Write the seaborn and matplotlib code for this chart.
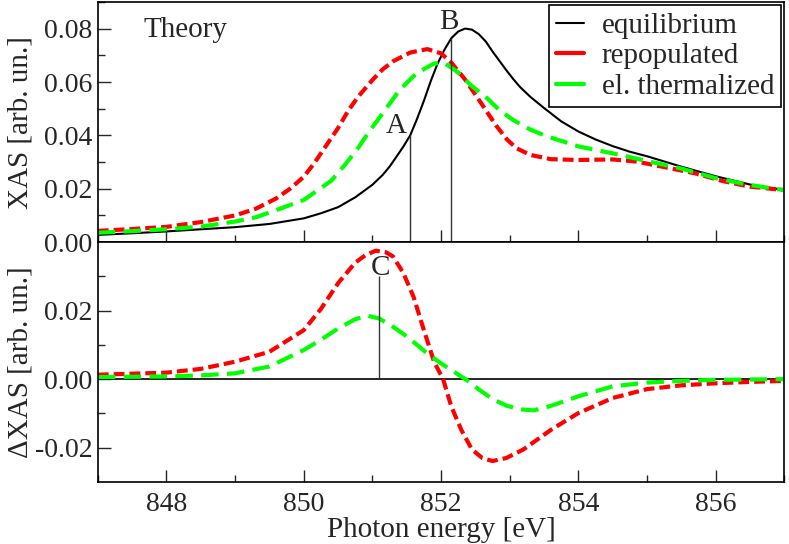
import numpy as np
import pandas as pd
import seaborn as sns
import matplotlib
matplotlib.use("Agg")
import matplotlib.pyplot as plt
from matplotlib.ticker import MultipleLocator, FuncFormatter

# --- XAS spectra (top panel) ---
energy_eq = [847, 847.5, 848, 848.5, 849, 849.5, 850, 850.25, 850.5, 850.75, 851,
             851.15, 851.25, 851.35, 851.45, 851.55, 851.65, 851.75, 851.85, 851.95,
             852.05, 852.15, 852.25, 852.35, 852.45, 852.55, 852.65, 852.75, 852.85,
             852.95, 853.05, 853.15, 853.3, 853.5, 853.75, 854, 854.25, 854.5, 854.75,
             855, 855.5, 856, 856.5, 857]
xas_eq = [0.0027, 0.0033, 0.0040, 0.0048, 0.0056, 0.0068, 0.0089, 0.0108, 0.0131,
          0.0168, 0.0215, 0.0252, 0.0283, 0.0320, 0.0358, 0.0400, 0.0462, 0.0530,
          0.0604, 0.0670, 0.0722, 0.0765, 0.0790, 0.0801, 0.0797, 0.0780, 0.0753,
          0.0715, 0.0680, 0.0645, 0.0612, 0.0582, 0.0545, 0.0503, 0.0453, 0.0415,
          0.0385, 0.0360, 0.0339, 0.0322, 0.0283, 0.0247, 0.0216, 0.0195]

energy_rep = [847, 847.5, 848, 848.5, 849, 849.3, 849.6, 849.8, 850, 850.15, 850.3,
              850.5, 850.65, 850.8, 851, 851.15, 851.3, 851.55, 851.8, 852, 852.15,
              852.35, 852.6, 852.8, 852.96, 853.1, 853.3, 853.6, 854, 854.5, 854.85,
              855.2, 855.7, 856.1, 856.5, 857]
xas_rep = [0.0042, 0.0049, 0.0057, 0.0075, 0.0100, 0.0125, 0.0164, 0.0200, 0.0245,
           0.0295, 0.0352, 0.0428, 0.0494, 0.0548, 0.0608, 0.0648, 0.0678, 0.0711,
           0.0724, 0.0708, 0.0673, 0.0610, 0.0515, 0.0438, 0.0385, 0.0352, 0.0327,
           0.0311, 0.0308, 0.0310, 0.0302, 0.0284, 0.0258, 0.0229, 0.0208, 0.0195]

energy_th = [847, 847.5, 848, 848.5, 849, 849.3, 849.6, 850, 850.4, 850.6, 850.8,
             850.95, 851.15, 851.4, 851.65, 851.9, 852.05, 852.25, 852.45, 852.67,
             852.85, 853.05, 853.3, 853.55, 854, 854.5, 855, 855.5, 856, 856.5, 857]
xas_th = [0.0035, 0.0041, 0.0048, 0.0058, 0.0077, 0.0093, 0.0120, 0.0158, 0.0230,
          0.0290, 0.0356, 0.0414, 0.0483, 0.0572, 0.0635, 0.0670, 0.0672, 0.0636,
          0.0585, 0.0540, 0.0495, 0.0458, 0.0422, 0.0396, 0.0359, 0.0333, 0.0304,
          0.0276, 0.0240, 0.0214, 0.0195]

# --- difference spectra (bottom panel) ---
energy_drep = [847, 848, 848.5, 849, 849.5, 850, 850.25, 850.5, 850.75, 850.9, 851.05,
               851.2, 851.3, 851.45, 851.6, 851.75, 851.9, 852.03, 852.15, 852.3,
               852.45, 852.6, 852.75, 852.95, 853.2, 853.6, 854, 854.5, 855, 855.5,
               856, 856.5, 857]
dxas_rep = [0.0013, 0.0019, 0.0030, 0.0051, 0.0080, 0.0143, 0.0205, 0.0280, 0.0340,
            0.0362, 0.0375, 0.0370, 0.0358, 0.0310, 0.0240, 0.0143, 0.0050, 0.0000,
            -0.0080, -0.0150, -0.0205, -0.0230, -0.0239, -0.0230, -0.0205, -0.0148,
            -0.0099, -0.0055, -0.0029, -0.0018, -0.0012, -0.0008, -0.0005]

energy_dth = [847, 848, 848.5, 849, 849.5, 850, 850.25, 850.5, 850.75, 850.93, 851.1,
              851.3, 851.5, 851.8, 852, 852.2, 852.37, 852.55, 852.75, 852.95, 853.15,
              853.35, 853.6, 854, 854.5, 855, 855.5, 856, 857]
dxas_th = [0.0006, 0.0008, 0.0011, 0.0017, 0.0037, 0.0085, 0.0115, 0.0148, 0.0175,
           0.0185, 0.0177, 0.0153, 0.0125, 0.0075, 0.0046, 0.0020, -0.0002, -0.0030,
           -0.0058, -0.0077, -0.0088, -0.0091, -0.0078, -0.0050, -0.0021, -0.0010,
           -0.0005, -0.0002, 0.0]

# marked features
top_marks = ["A", "B"]
top_mark_energy = [851.55, 852.15]
top_mark_height = [0.040, 0.0765]
bottom_marks = ["C"]
bottom_mark_energy = [851.1]
bottom_mark_height = [0.030]

sns.set_style("ticks")
plt.rcParams["font.family"] = ["Liberation Serif", "DejaVu Serif"]
plt.rcParams["xtick.direction"] = "in"
plt.rcParams["ytick.direction"] = "in"

fig = plt.figure(figsize=(7.89, 5.44), dpi=100)
grid = fig.add_gridspec(2, 1, left=0.124, right=0.994, top=0.996, bottom=0.114, hspace=0)
top_ax = fig.add_subplot(grid[0])
bot_ax = fig.add_subplot(grid[1], sharex=top_ax)

red_dash = (0, (2.6, 1.2))
green_dash = (0, (4.2, 2.0))

sns.lineplot(x=energy_eq, y=xas_eq, ax=top_ax, color="black", lw=1.5, label="equilibrium")
sns.lineplot(x=energy_rep, y=xas_rep, ax=top_ax, color="#ff0000", lw=3, linestyle=red_dash,
             label="repopulated")
sns.lineplot(x=energy_th, y=xas_th, ax=top_ax, color="#00ff00", lw=3, linestyle=green_dash,
             label="el. thermalized")

sns.lineplot(x=energy_drep, y=dxas_rep, ax=bot_ax, color="#ff0000", lw=3, linestyle=red_dash)
sns.lineplot(x=energy_dth, y=dxas_th, ax=bot_ax, color="#00ff00", lw=3, linestyle=green_dash)
bot_ax.axhline(0, color="black", lw=1.2, zorder=1)

top_ax.vlines(top_mark_energy, 0, top_mark_height, color="#333333", lw=1)
bot_ax.vlines(bottom_mark_energy, 0, bottom_mark_height, color="#333333", lw=1)
top_ax.text(851.35, 0.0436, top_marks[0], fontsize=21, ha="center", va="center")
top_ax.text(852.12, 0.0827, top_marks[1], fontsize=21, ha="center", va="center")
bot_ax.text(851.12, 0.0325, bottom_marks[0], fontsize=21, ha="center", va="center")
top_ax.text(848.27, 0.0796, "Theory", fontsize=21, ha="center", va="center")

top_ax.set_xlim(847, 857)
top_ax.set_ylim(0, 0.09)
bot_ax.set_ylim(-0.03, 0.04)

fmt = FuncFormatter(lambda v, pos: f"{abs(v):.2f}" if abs(v) < 1e-9 else f"{v:.2f}")
top_ax.set_yticks([0, 0.02, 0.04, 0.06, 0.08])
top_ax.yaxis.set_minor_locator(MultipleLocator(0.01))
bot_ax.set_yticks([-0.02, 0, 0.02])
bot_ax.set_yticks([-0.01, 0.01, 0.03], minor=True)
for ax in (top_ax, bot_ax):
    ax.yaxis.set_major_formatter(fmt)
    ax.xaxis.set_major_locator(MultipleLocator(2))
    ax.xaxis.set_minor_locator(MultipleLocator(1))
    ax.tick_params(which="major", length=9, width=1, labelsize=20)
    ax.tick_params(which="minor", length=5, width=1)
    ax.tick_params(axis="x", which="major", pad=7)
    ax.tick_params(axis="y", which="major", pad=4)
    ax.tick_params(top=False, right=False, which="both")
    for s in ax.spines.values():
        s.set_linewidth(1.2)
        s.set_color("black")
top_ax.tick_params(labelbottom=False)

top_ax.set_ylabel("XAS [arb. un.]", fontsize=21)
bot_ax.set_ylabel("ΔXAS [arb. un.]", fontsize=21)
bot_ax.set_xlabel("Photon energy [eV]", fontsize=21)
top_ax.yaxis.set_label_coords(-0.094, 0.5)
bot_ax.yaxis.set_label_coords(-0.094, 0.5)
bot_ax.xaxis.set_label_coords(0.5, -0.145)

leg = top_ax.legend(loc="upper right", fontsize=21, frameon=True, fancybox=False,
                    framealpha=1, edgecolor="black", borderaxespad=0.1,
                    handlelength=0.95, handletextpad=0.6, labelspacing=0.14,
                    borderpad=0.25)
leg.get_frame().set_linewidth(1.2)
for line in leg.get_lines():
    line.set_linestyle("-")

fig.savefig("out.png", dpi=100)
